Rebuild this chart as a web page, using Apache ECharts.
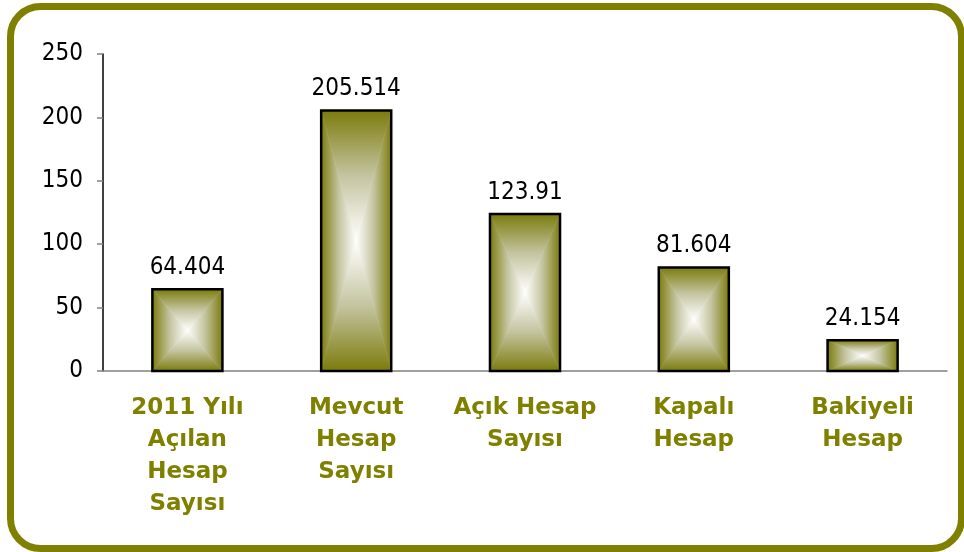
<!DOCTYPE html>
<html>
<head>
<meta charset="utf-8">
<script src="https://cdn.jsdelivr.net/npm/echarts@6/dist/echarts.min.js"></script>
<style>
  html, body { margin: 0; padding: 0; background: #fff; }
  #chart { width: 964px; height: 552px; }
</style>
</head>
<body>
<div id="chart"></div>
<script>
var categories = ["2011 Yılı\nAçılan\nHesap\nSayısı", "Mevcut\nHesap\nSayısı", "Açık Hesap\nSayısı", "Kapalı\nHesap", "Bakiyeli\nHesap"];
var values = [64.404, 205.514, 123.91, 81.604, 24.154];
var yTicks = [0, 50, 100, 150, 200, 250];

var olive = "#808000";
var numFont = "'DejaVu Sans Condensed', 'DejaVu Sans', sans-serif";
var myChart = echarts.init(document.getElementById("chart"));

// olive at edge -> white at centre
function grad(x, y, x2, y2) {
  return {
    type: "linear", x: x, y: y, x2: x2, y2: y2,
    colorStops: [
      { offset: 0, color: "#7b7b0c" },
      { offset: 0.5, color: "#c4c4a0" },
      { offset: 1, color: "#ffffff" }
    ]
  };
}

function renderBar(params, api) {
  var top = api.coord([api.value(0), api.value(1)]);
  var base = api.coord([api.value(0), 0]);
  var w = api.size([1, 0])[0] * 0.415;
  var x0 = top[0] - w / 2, x1 = top[0] + w / 2;
  var y0 = top[1], y1 = base[1];
  var cx = top[0], cy = (y0 + y1) / 2;
  function tri(points, g) {
    return { type: "polygon", shape: { points: points }, style: { fill: g, stroke: g, lineWidth: 0.6 } };
  }
  return {
    type: "group",
    children: [
      tri([[x0, y0], [x1, y0], [cx, cy]], grad(0, 0, 0, 1)),
      tri([[x0, y1], [x1, y1], [cx, cy]], grad(0, 1, 0, 0)),
      tri([[x0, y0], [x0, y1], [cx, cy]], grad(0, 0, 1, 0)),
      tri([[x1, y0], [x1, y1], [cx, cy]], grad(1, 0, 0, 0)),
      {
        type: "rect",
        shape: { x: x0, y: y0, width: w, height: y1 - y0 },
        style: { fill: "none", stroke: "#000", lineWidth: 2.5 },
        textContent: {
          style: { text: String(api.value(1)), fill: "#000", fontSize: 24, fontFamily: numFont }
        },
        textConfig: { position: "top", distance: 7 }
      }
    ]
  };
}

var option = {
  animation: false,
  graphic: [{
    type: "rect",
    shape: { x: 10.5, y: 6.5, width: 951, height: 542, r: 30 },
    style: { fill: "none", stroke: olive, lineWidth: 7 },
    silent: true
  }],
  grid: { left: 103, right: 17, top: 54, bottom: 181 },
  xAxis: {
    type: "category",
    data: categories,
    axisLine: { lineStyle: { color: "#808080", width: 1.5 } },
    axisTick: { length: 6, lineStyle: { color: "#808080", width: 1.5 } },
    axisLabel: {
      interval: 0, margin: 21, color: olive, fontSize: 23, fontWeight: "bold",
      lineHeight: 32, fontFamily: "DejaVu Sans"
    }
  },
  yAxis: {
    type: "value",
    min: yTicks[0],
    max: yTicks[yTicks.length - 1],
    interval: 50,
    splitLine: { show: false },
    axisLine: { show: true, lineStyle: { color: "#000", width: 1.5 } },
    axisTick: { show: true, length: 6, lineStyle: { color: "#808080", width: 1.5 } },
    axisLabel: { margin: 20, color: "#000", fontSize: 24, fontFamily: numFont }
  },
  series: [{
    type: "custom",
    renderItem: renderBar,
    data: values.map(function (v, i) { return [i, v]; })
  }]
};
myChart.setOption(option);
</script>
</body>
</html>
